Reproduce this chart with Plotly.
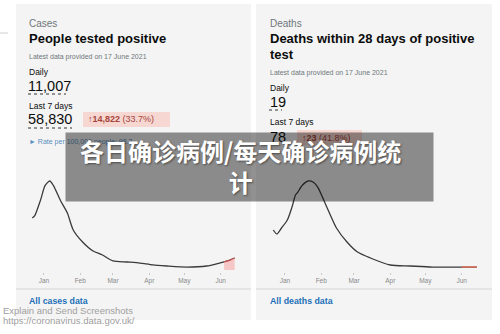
import plotly.graph_objects as go

W, H = 500, 334

# ---- data ----
case_dates = ["2020-12-22", "2020-12-24", "2020-12-29", "2021-01-02", "2021-01-06", "2021-01-09",
              "2021-01-15", "2021-01-21", "2021-01-26", "2021-02-03", "2021-02-12", "2021-02-20",
              "2021-03-01", "2021-03-13", "2021-03-24", "2021-04-04", "2021-04-16", "2021-05-03",
              "2021-05-20", "2021-05-31", "2021-06-04", "2021-06-09", "2021-06-13"]
case_values = [35000, 36400, 47000, 57000, 60000, 57000,
               47000, 38400, 27000, 18900, 12800, 10100,
               6100, 5400, 4700, 3400, 2700, 2000,
               2700, 4700, 5500, 6700, 8100]
case_incomplete_from = "2021-06-04"

death_dates = ["2020-12-22", "2020-12-25", "2020-12-29", "2021-01-03", "2021-01-07", "2021-01-10",
               "2021-01-12", "2021-01-16", "2021-01-21", "2021-01-25", "2021-01-29", "2021-02-02",
               "2021-02-08", "2021-02-14", "2021-02-23", "2021-03-04", "2021-03-15", "2021-04-01",
               "2021-04-18", "2021-05-07", "2021-05-28", "2021-06-01", "2021-06-14"]
death_values = [547, 490, 576, 691, 878, 1051,
                1094, 1195, 1253, 1238, 1166, 1022,
                792, 576, 374, 230, 144, 43,
                29, 14, 14, 14, 14]
death_incomplete_from = "2021-06-01"


def px(x):
    return x / W


def py(y):
    return 1 - y / H


fig = go.Figure()

# cases line
fig.add_trace(go.Scatter(x=case_dates, y=case_values, mode="lines",
                         line=dict(color="#3a3a3a", width=1.3, shape="spline", smoothing=0.7),
                         xaxis="x", yaxis="y", hoverinfo="skip"))
ci = [i for i, d in enumerate(case_dates) if d >= case_incomplete_from]
fig.add_trace(go.Scatter(x=[case_dates[i] for i in ci], y=[case_values[i] for i in ci], mode="lines",
                         fill="tozeroy", fillcolor="rgba(246,190,190,0.85)",
                         line=dict(color="#c0504d", width=1.3, shape="spline", smoothing=0.7),
                         xaxis="x", yaxis="y", hoverinfo="skip"))

# deaths line
fig.add_trace(go.Scatter(x=death_dates, y=death_values, mode="lines",
                         line=dict(color="#3a3a3a", width=1.3, shape="spline", smoothing=0.7),
                         xaxis="x2", yaxis="y2", hoverinfo="skip"))
di = [i for i, d in enumerate(death_dates) if d >= death_incomplete_from]
fig.add_trace(go.Scatter(x=[death_dates[i] for i in di], y=[death_values[i] for i in di], mode="lines",
                         line=dict(color="#e0705a", width=1.4),
                         xaxis="x2", yaxis="y2", hoverinfo="skip"))

xcommon = dict(type="date", dtick="M1", tick0="2021-01-01", tickformat="%b",
               showgrid=False, zeroline=False, showline=False,
               ticks="outside", ticklen=2, tickcolor="#c8c8c8", tickwidth=1,
               tickfont=dict(family="Liberation Sans", size=6.5, color="#8a8a8a"),
               fixedrange=True)
ycommon = dict(showgrid=False, zeroline=False, showline=False, showticklabels=False,
               ticks="", fixedrange=True)

shapes = []
# cards
for x0, x1 in [(16, 251), (256, 492)]:
    shapes.append(dict(type="rect", xref="paper", yref="paper", x0=px(x0), x1=px(x1),
                       y0=py(320), y1=py(4), fillcolor="#f4f4f4", line=dict(width=0), layer="below"))
    shapes.append(dict(type="line", xref="paper", yref="paper", x0=px(x0), x1=px(x1),
                       y0=py(289), y1=py(289), line=dict(color="#d6d6d6", width=1), layer="below"))
# small dash at far left
shapes.append(dict(type="line", xref="paper", yref="paper", x0=px(0), x1=px(8),
                   y0=py(33), y1=py(33), line=dict(color="#d0d0d0", width=1)))
# dotted underlines
for x0, x1, y in [(28, 66, 94), (28, 72, 128), (269, 282, 110)]:
    shapes.append(dict(type="line", xref="paper", yref="paper", x0=px(x0), x1=px(x1),
                       y0=py(y), y1=py(y), line=dict(color="#333333", width=1, dash="dot")))
# badges
shapes.append(dict(type="rect", xref="paper", yref="paper", x0=px(83), x1=px(170),
                   y0=py(127), y1=py(112), fillcolor="#f6d7d2", line=dict(width=0)))
shapes.append(dict(type="rect", xref="paper", yref="paper", x0=px(297), x1=px(362),
                   y0=py(145), y1=py(130), fillcolor="#f6d7d2", line=dict(width=0)))

F = "Liberation Sans"
ann = []


def txt(x, y, s, size, color="#0b0c0c", bold=False, family=F, xanchor="left"):
    if bold:
        s = "<b>" + s + "</b>"
    ann.append(dict(x=px(x), y=py(y), xref="paper", yref="paper", text=s, showarrow=False,
                    xanchor=xanchor, yanchor="middle", align="left",
                    font=dict(family=family, size=size, color=color)))


grey = "#6f777b"
# left card
txt(27, 23, "Cases", 10, grey)
txt(27, 38, "People tested positive", 13, bold=True)
txt(27, 57, "Latest data provided on 17 June 2021", 7, grey)
txt(27, 72, "Daily", 8.5)
txt(26, 86, "11,007", 14.5)
txt(27, 106, "Last 7 days", 8.5)
txt(26, 119, "58,830", 14.5)
txt(86, 119.5, "<b>↑14,822</b> (33.7%)", 9, "#a8453a")
txt(27, 142, "► Rate per 100,000 people: 98.3", 7, "#5a8fc0")
txt(27, 301, "All cases data", 8.8, "#1d70b8", bold=True)

# right card
txt(268, 23, "Deaths", 10, grey)
txt(268, 38, "Deaths within 28 days of positive", 13, bold=True)
txt(268, 54, "test", 13, bold=True)
txt(268, 73, "Latest data provided on 17 June 2021", 7, grey)
txt(268, 88, "Daily", 8.5)
txt(268, 102, "19", 14.5)
txt(268, 122, "Last 7 days", 8.5)
txt(268, 137, "78", 14.5)
txt(300, 137.5, "<b>↑23</b> (41.8%)", 9, "#a8453a")
txt(268, 301, "All deaths data", 8.8, "#1d70b8", bold=True)

# overlay box (annotation so it tints everything beneath)
ann.append(dict(x=px(249.5), y=py(166.7), xref="paper", yref="paper", text=" ", showarrow=False,
                xanchor="center", yanchor="middle", width=367, height=68, borderpad=0,
                bgcolor="rgba(0,0,0,0.43)", font=dict(size=6)))
ann.append(dict(x=px(240), y=py(166), xref="paper", yref="paper",
                text="<b>各日确诊病例/每天确诊病例统<br>计</b>", showarrow=False,
                xanchor="center", yanchor="middle", align="center",
                font=dict(family="Noto Sans CJK SC", size=24, color="#ffffff",
                          shadow="1px 1px 2px rgba(0,0,0,0.45)")))

# watermark text
txt(1, 310, "Explain and Send Screenshots", 9.5, "#a0a0a0")
txt(1, 320, "https://coronavirus.data.gov.uk/", 9.5, "#a0a0a0")

fig.update_layout(
    width=W, height=H, margin=dict(l=0, r=0, t=0, b=0),
    paper_bgcolor="#ffffff", plot_bgcolor="rgba(0,0,0,0)", showlegend=False,
    xaxis=dict(domain=[27.6 / W, 240.5 / W], range=["2020-12-18", "2021-06-18"], anchor="y", **xcommon),
    yaxis=dict(domain=[py(272), py(170)], range=[-1348, 67400], anchor="x", **ycommon),
    xaxis2=dict(domain=[268.6 / W, 481.5 / W], range=["2020-12-18", "2021-06-18"], anchor="y2", **xcommon),
    yaxis2=dict(domain=[py(272), py(170)], range=[-57.6, 1411], anchor="x2", **ycommon),
    shapes=shapes, annotations=ann,
)

fig.write_html("out.html")
